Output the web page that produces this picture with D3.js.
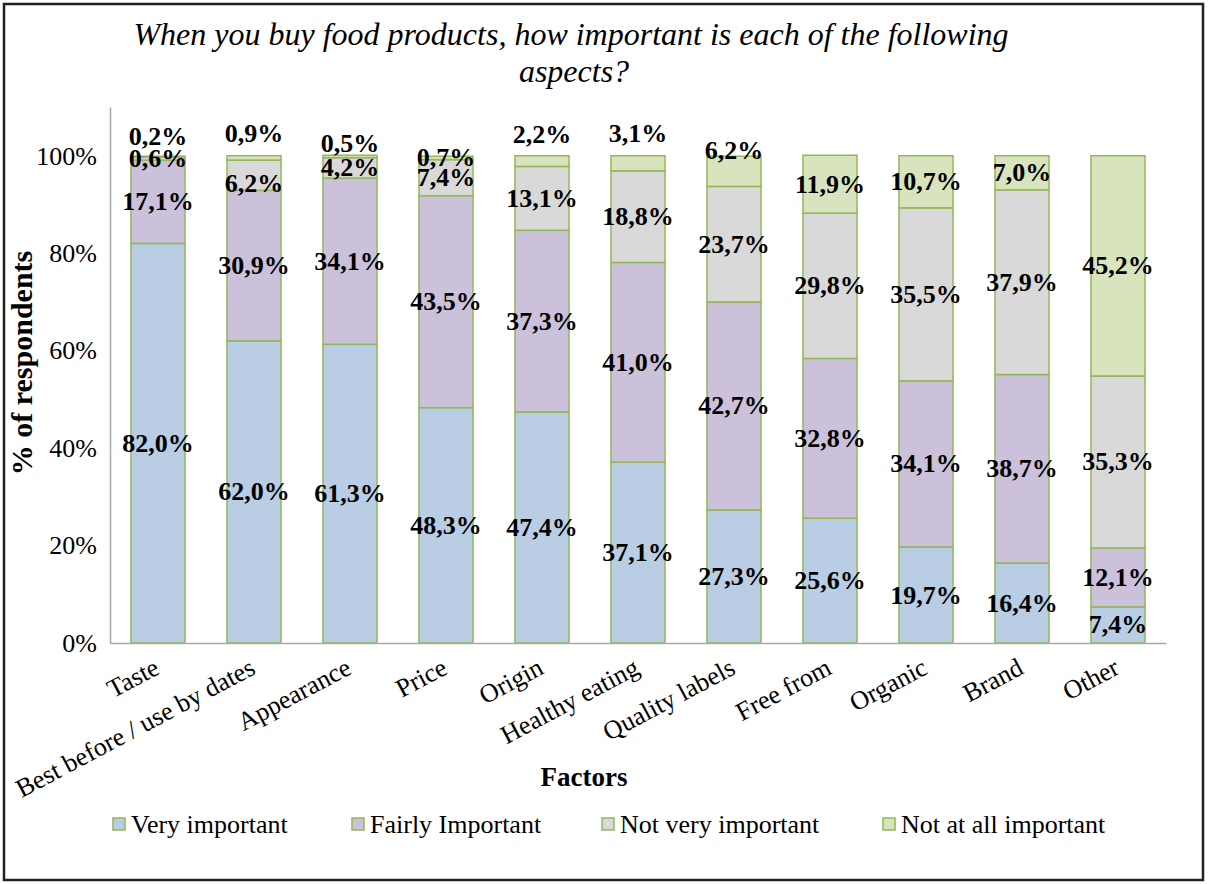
<!DOCTYPE html>
<html>
<head>
<meta charset="utf-8">
<script src="https://cdn.jsdelivr.net/npm/d3@7"></script>
<style>
  body { margin: 0; background: #fff; }
  text { font-family: "Liberation Serif", "Times New Roman", serif; fill: #000; }
</style>
</head>
<body>
<svg width="1208" height="884"></svg>
<script>
// values (percent of respondents)
const categories = ["Taste", "Best before / use by dates", "Appearance", "Price", "Origin",
  "Healthy eating", "Quality labels", "Free from", "Organic", "Brand", "Other"];
const seriesNames = ["Very important", "Fairly Important", "Not very important", "Not at all important"];
const veryImportant = [82.0, 62.0, 61.3, 48.3, 47.4, 37.1, 27.3, 25.6, 19.7, 16.4, 7.4];
const fairlyImportant = [17.1, 30.9, 34.1, 43.5, 37.3, 41.0, 42.7, 32.8, 34.1, 38.7, 12.1];
const notVeryImportant = [0.6, 6.2, 4.2, 7.4, 13.1, 18.8, 23.7, 29.8, 35.5, 37.9, 35.3];
const notAtAllImportant = [0.2, 0.9, 0.5, 0.7, 2.2, 3.1, 6.2, 11.9, 10.7, 7.0, 45.2];
const yTicks = [0, 20, 40, 60, 80, 100];

// labels that were dragged off the middle of their segment (px)
const labelShift = {
  "Taste|Not at all important": -20,
  "Best before / use by dates|Not at all important": -24,
  "Best before / use by dates|Not very important": 8,
  "Appearance|Not at all important": -13,
  "Origin|Not at all important": -27,
  "Healthy eating|Not at all important": -30,
  "Quality labels|Not at all important": -21
};

const colors = ["#b9cde5", "#ccc1da", "#d9d9d9", "#d7e4bd"];

const svg = d3.select("svg");
const plotLeft = 110, plotRight = 1166, plotTop = 107, plotBottom = 643;

const rows = categories.map(function (c, i) {
  return {
    cat: c,
    "Very important": veryImportant[i],
    "Fairly Important": fairlyImportant[i],
    "Not very important": notVeryImportant[i],
    "Not at all important": notAtAllImportant[i]
  };
});
const stacked = d3.stack().keys(seriesNames)(rows);

const x = d3.scaleBand()
  .domain(categories)
  .range([plotLeft, plotRight])
  .paddingInner(0.4375)
  .paddingOuter(0.21875);
const y = d3.scaleLinear().domain([0, 110]).range([plotBottom, plotTop]);

// outer frame
svg.append("rect")
  .attr("x", 4).attr("y", 4)
  .attr("width", 1199).attr("height", 876)
  .attr("fill", "none")
  .attr("stroke", "#222")
  .attr("stroke-width", 2.5);

// title
const title = svg.append("text")
  .attr("text-anchor", "middle")
  .style("font-style", "italic")
  .style("font-size", "32px");
title.append("tspan").attr("x", 571).attr("y", 45)
  .text("When you buy food products, how important is each of the following");
title.append("tspan").attr("x", 574).attr("y", 82).text("aspects?");

// bars
const layer = svg.append("g")
  .selectAll("g")
  .data(stacked)
  .join("g")
  .attr("fill", function (d, i) { return colors[i]; });
layer.selectAll("rect")
  .data(function (d) { return d; })
  .join("rect")
  .attr("x", function (d) { return x(d.data.cat); })
  .attr("y", function (d) { return y(d[1]); })
  .attr("width", x.bandwidth())
  .attr("height", function (d) { return y(d[0]) - y(d[1]); })
  .attr("stroke", "#94b656")
  .attr("stroke-width", 1.5);

// axes
const yAxis = svg.append("g")
  .attr("transform", "translate(" + plotLeft + ",0)")
  .call(d3.axisLeft(y).tickValues(yTicks).tickSize(0).tickPadding(13)
    .tickFormat(function (d) { return d + "%"; }));
yAxis.select(".domain").attr("stroke", "#a6a6a6").attr("stroke-width", 1.5);
yAxis.selectAll("text").style("font-size", "26px").attr("font-family", null);

const xAxis = svg.append("g")
  .attr("transform", "translate(0," + plotBottom + ")")
  .call(d3.axisBottom(x).tickSize(0).tickFormat(""));
xAxis.select(".domain").attr("stroke", "#a6a6a6").attr("stroke-width", 1.5);

// rotated category labels
svg.append("g")
  .selectAll("text")
  .data(categories)
  .join("text")
  .attr("text-anchor", "end")
  .style("font-size", "26px")
  .attr("transform", function (d) {
    return "translate(" + (x(d) + x.bandwidth() / 2 + 3) + "," + (plotBottom + 30) + ") rotate(-28)";
  })
  .text(function (d) { return d; });

// value labels
stacked.forEach(function (s) {
  svg.append("g")
    .selectAll("text")
    .data(s)
    .join("text")
    .attr("text-anchor", "middle")
    .attr("dominant-baseline", "central")
    .style("font-size", "26px")
    .style("font-weight", "bold")
    .attr("x", function (d) { return x(d.data.cat) + x.bandwidth() / 2; })
    .attr("y", function (d) {
      return (y(d[0]) + y(d[1])) / 2 + (labelShift[d.data.cat + "|" + s.key] || 0);
    })
    .text(function (d) {
      return (d[1] - d[0]).toFixed(1).replace(".", ",") + "%";
    });
});

// axis titles
svg.append("text")
  .attr("transform", "translate(32,363) rotate(-90)")
  .attr("text-anchor", "middle")
  .style("font-size", "30px")
  .style("font-weight", "bold")
  .text("% of respondents");
svg.append("text")
  .attr("x", 584).attr("y", 786)
  .attr("text-anchor", "middle")
  .style("font-size", "27px")
  .style("font-weight", "bold")
  .text("Factors");

// legend
const legendX = [113, 352, 602, 883];
const legend = svg.append("g")
  .selectAll("g")
  .data(seriesNames)
  .join("g")
  .attr("transform", function (d, i) { return "translate(" + legendX[i] + ",824)"; });
legend.append("rect")
  .attr("x", 0).attr("y", -6)
  .attr("width", 12).attr("height", 12)
  .attr("fill", function (d, i) { return colors[i]; })
  .attr("stroke", "#94b656")
  .attr("stroke-width", 1.5);
legend.append("text")
  .attr("x", 18)
  .attr("dominant-baseline", "central")
  .style("font-size", "26px")
  .text(function (d) { return d; });
</script>
</body>
</html>
